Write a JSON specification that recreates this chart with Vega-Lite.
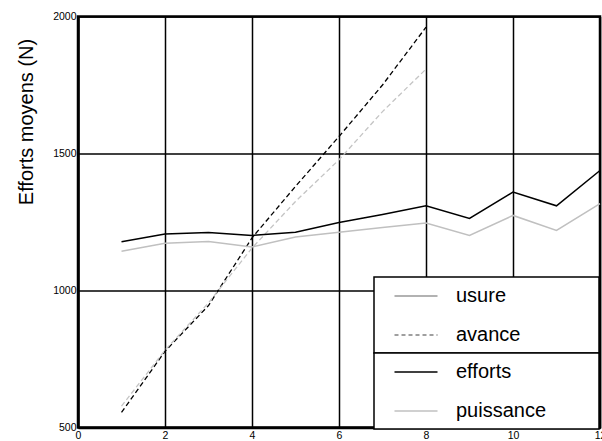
{
  "$schema": "https://vega.github.io/schema/vega-lite/v6.json",
  "width": 522,
  "height": 411,
  "autosize": "none",
  "padding": {"left": 78, "top": 16.5, "right": 2, "bottom": 13.5},
  "background": "white",
  "config": {
    "view": {"stroke": "black", "strokeWidth": 2.5},
    "font": "Liberation Sans"
  },
  "data": {
    "values": [
      {"x": 1, "y": 555, "serie": "usure"},
      {"x": 2, "y": 778, "serie": "usure"},
      {"x": 3, "y": 945, "serie": "usure"},
      {"x": 4, "y": 1192, "serie": "usure"},
      {"x": 5, "y": 1380, "serie": "usure"},
      {"x": 6, "y": 1562, "serie": "usure"},
      {"x": 7, "y": 1750, "serie": "usure"},
      {"x": 8, "y": 1961, "serie": "usure"},
      {"x": 1, "y": 578, "serie": "avance"},
      {"x": 2, "y": 782, "serie": "avance"},
      {"x": 3, "y": 955, "serie": "avance"},
      {"x": 4, "y": 1155, "serie": "avance"},
      {"x": 5, "y": 1325, "serie": "avance"},
      {"x": 6, "y": 1477, "serie": "avance"},
      {"x": 7, "y": 1653, "serie": "avance"},
      {"x": 8, "y": 1808, "serie": "avance"},
      {"x": 1, "y": 1178, "serie": "efforts"},
      {"x": 2, "y": 1206, "serie": "efforts"},
      {"x": 3, "y": 1212, "serie": "efforts"},
      {"x": 4, "y": 1201, "serie": "efforts"},
      {"x": 5, "y": 1213, "serie": "efforts"},
      {"x": 6, "y": 1248, "serie": "efforts"},
      {"x": 7, "y": 1277, "serie": "efforts"},
      {"x": 8, "y": 1309, "serie": "efforts"},
      {"x": 9, "y": 1263, "serie": "efforts"},
      {"x": 10, "y": 1359, "serie": "efforts"},
      {"x": 11, "y": 1309, "serie": "efforts"},
      {"x": 12, "y": 1438, "serie": "efforts"},
      {"x": 1, "y": 1143, "serie": "puissance"},
      {"x": 2, "y": 1172, "serie": "puissance"},
      {"x": 3, "y": 1179, "serie": "puissance"},
      {"x": 4, "y": 1159, "serie": "puissance"},
      {"x": 5, "y": 1195, "serie": "puissance"},
      {"x": 6, "y": 1213, "serie": "puissance"},
      {"x": 7, "y": 1230, "serie": "puissance"},
      {"x": 8, "y": 1246, "serie": "puissance"},
      {"x": 9, "y": 1201, "serie": "puissance"},
      {"x": 10, "y": 1274, "serie": "puissance"},
      {"x": 11, "y": 1219, "serie": "puissance"},
      {"x": 12, "y": 1317, "serie": "puissance"}
    ]
  },
  "encoding": {
    "x": {
      "field": "x",
      "type": "quantitative",
      "scale": {"domain": [0, 12], "nice": false},
      "axis": {
        "values": [0, 2, 4, 6, 8, 10, 12],
        "title": null,
        "grid": true,
        "gridColor": "black",
        "gridWidth": 1.5,
        "gridOpacity": 1,
        "domainColor": "black",
        "domainWidth": 2.5,
        "tickSize": 0,
        "labelFontSize": 10.5,
        "labelPadding": 3,
        "labelColor": "black",
        "labelFlush": false
      }
    },
    "y": {
      "field": "y",
      "type": "quantitative",
      "scale": {"domain": [500, 2000], "nice": false, "zero": false},
      "axis": {
        "values": [500, 1000, 1500, 2000],
        "format": "d",
        "title": "Efforts moyens (N)",
        "titleFontSize": 20,
        "titleFontWeight": "normal",
        "titleColor": "black",
        "titleX": -46,
        "titleY": 105,
        "titleAngle": -90,
        "titleAlign": "center",
        "titleBaseline": "alphabetic",
        "grid": true,
        "gridColor": "black",
        "gridWidth": 1.5,
        "gridOpacity": 1,
        "domainColor": "black",
        "domainWidth": 2.5,
        "tickSize": 0,
        "labelFontSize": 10.5,
        "labelPadding": 2,
        "labelColor": "black",
        "labelFlush": false
      }
    }
  },
  "layer": [
    {
      "transform": [{"filter": {"field": "serie", "oneOf": ["usure", "avance"]}}],
      "mark": {"type": "line", "strokeWidth": 1.3, "strokeDash": [5, 3]},
      "encoding": {
        "color": {
          "field": "serie",
          "type": "nominal",
          "scale": {"domain": ["usure", "avance"], "range": ["#000000", "#c4c4c4"]},
          "legend": null
        }
      }
    },
    {
      "transform": [{"filter": {"field": "serie", "oneOf": ["usure", "avance"]}}],
      "mark": {"type": "line", "strokeWidth": 1.5, "opacity": 0},
      "encoding": {
        "color": {
          "field": "serie",
          "type": "nominal",
          "scale": {"domain": ["usure", "avance"], "range": ["#999999", "#808080"]},
          "legend": {
            "orient": "none",
            "legendX": 296,
            "legendY": 260.5,
            "title": ".",
            "titleColor": "white",
            "titleFontSize": 2,
            "titleOrient": "right",
            "titlePadding": 70,
            "direction": "vertical",
            "symbolType": "M-2.15,0H2.15",
            "symbolSize": 400,
            "symbolStrokeWidth": 1.5,
            "symbolOpacity": 1,
            "labelFontSize": 20,
            "labelFont": "Liberation Sans",
            "labelColor": "black",
            "padding": 8,
            "rowPadding": 18,
            "symbolOffset": 23,
            "labelOffset": 29,
            "strokeColor": "black",
            "fillColor": "white",
            "encode": {
              "symbols": {
                "update": {
                  "opacity": {"value": 1},
                  "strokeDash": {"signal": "datum.value === 'usure' ? [1, 0] : [4, 3]"}
                }
              },
              "legend": {"update": {"strokeWidth": {"value": 1.5}}}
            }
          }
        }
      }
    },
    {
      "transform": [{"filter": {"field": "serie", "oneOf": ["efforts", "puissance"]}}],
      "mark": {"type": "line", "strokeWidth": 1.5},
      "encoding": {
        "color": {
          "field": "serie",
          "type": "nominal",
          "scale": {"domain": ["efforts", "puissance"], "range": ["#000000", "#c0c0c0"]},
          "legend": {
            "orient": "none",
            "legendX": 296,
            "legendY": 336.5,
            "title": ".",
            "titleColor": "white",
            "titleFontSize": 2,
            "titleOrient": "right",
            "titlePadding": 44,
            "direction": "vertical",
            "symbolType": "M-2.15,0H2.15",
            "symbolSize": 400,
            "symbolStrokeWidth": 1.5,
            "labelFontSize": 20,
            "labelFont": "Liberation Sans",
            "labelColor": "black",
            "padding": 8,
            "rowPadding": 18,
            "symbolOffset": 23,
            "labelOffset": 29,
            "strokeColor": "black",
            "fillColor": "white",
            "encode": {
              "legend": {"update": {"strokeWidth": {"value": 1.5}}}
            }
          }
        }
      }
    }
  ],
  "resolve": {"scale": {"color": "independent"}}
}
